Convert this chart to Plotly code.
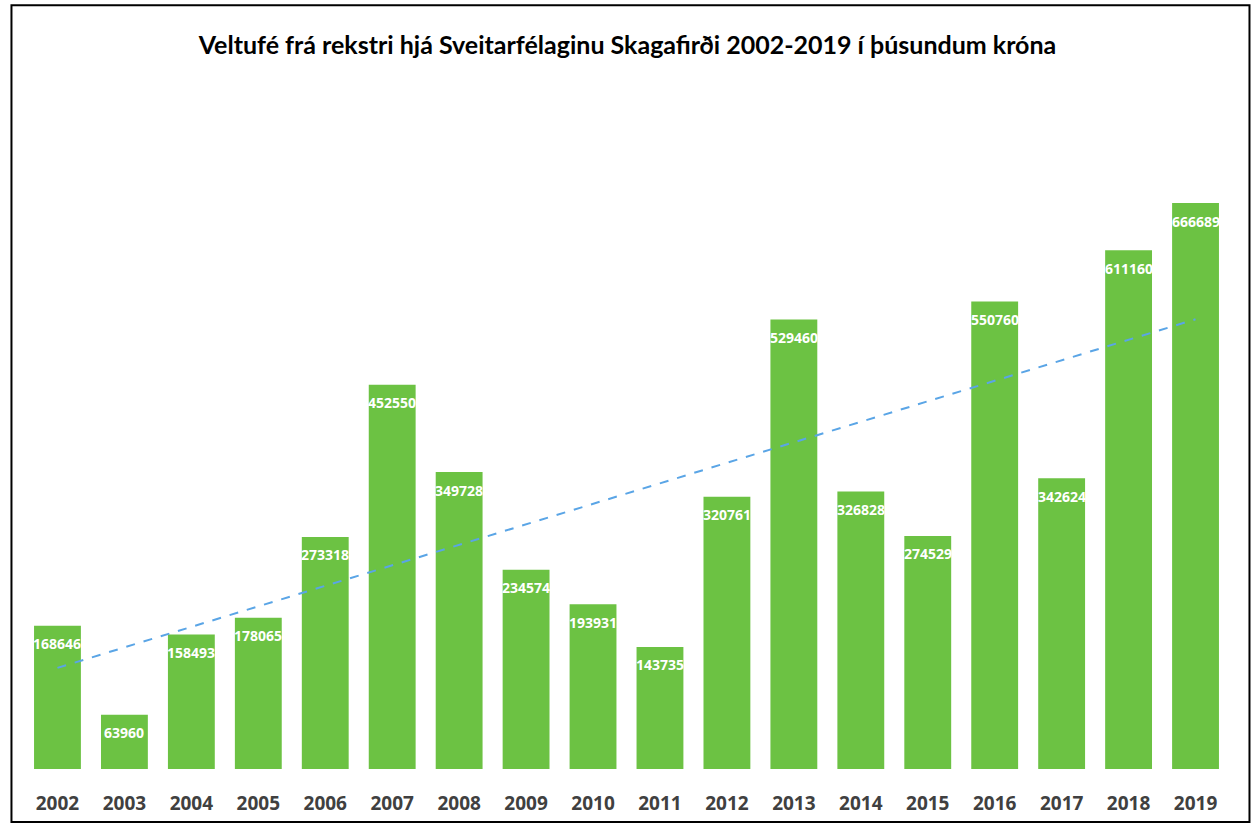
import numpy as np
import plotly.graph_objects as go

years = [str(y) for y in range(2002, 2020)]
values = [168646, 63960, 158493, 178065, 273318, 452550, 349728, 234574, 193931,
          143735, 320761, 529460, 326828, 274529, 550760, 342624, 611160, 666689]
title_text = "Veltufé frá rekstri hjá Sveitarfélaginu Skagafirði 2002-2019 í þúsundum króna"

idx = np.arange(len(values))
slope, intercept = np.polyfit(idx, values, 1)
trend = slope * idx + intercept

fig = go.Figure()
fig.add_trace(go.Bar(
    x=years, y=values,
    marker=dict(color="#6cc243", line=dict(width=0)),
    showlegend=False,
))
fig.add_trace(go.Scatter(
    x=years, y=trend, mode="lines",
    line=dict(color="#5aa5e6", width=2, dash="dash"),
    showlegend=False, hoverinfo="skip",
))

annotations = [
    dict(x=i, y=v, xref="x", yref="y", text=str(v), showarrow=False,
         yanchor="middle", xanchor="center", yshift=-18,
         font=dict(family="Open Sans", size=14, color="white", weight="bold"))
    for i, v in enumerate(values)
]

fig.update_layout(
    width=1255, height=828,
    margin=dict(l=24, r=26, t=120, b=59),
    paper_bgcolor="white", plot_bgcolor="white",
    bargap=0.3,
    title=dict(text=title_text, x=0.5, xanchor="center", y=1 - 45 / 828, yanchor="middle",
               font=dict(family="Lato", size=25, color="black", weight="bold")),
    xaxis=dict(type="category", range=[-0.5, len(years) - 0.5],
               showgrid=False, showline=False, zeroline=False, ticks="",
               ticklabelstandoff=21,
               tickfont=dict(family="Open Sans", size=19, color="#404040", weight="bold")),
    yaxis=dict(visible=False, range=[0, 764500]),
    annotations=annotations,
    shapes=[dict(type="rect", xref="paper", yref="paper",
                 x0=-0.0104, x1=1.017, y0=-0.0817, y1=1.177,
                 line=dict(color="black", width=2))],
)

fig.write_html("out.html", post_script="document.body.style.margin='0';",
               config={"displayModeBar": False})
